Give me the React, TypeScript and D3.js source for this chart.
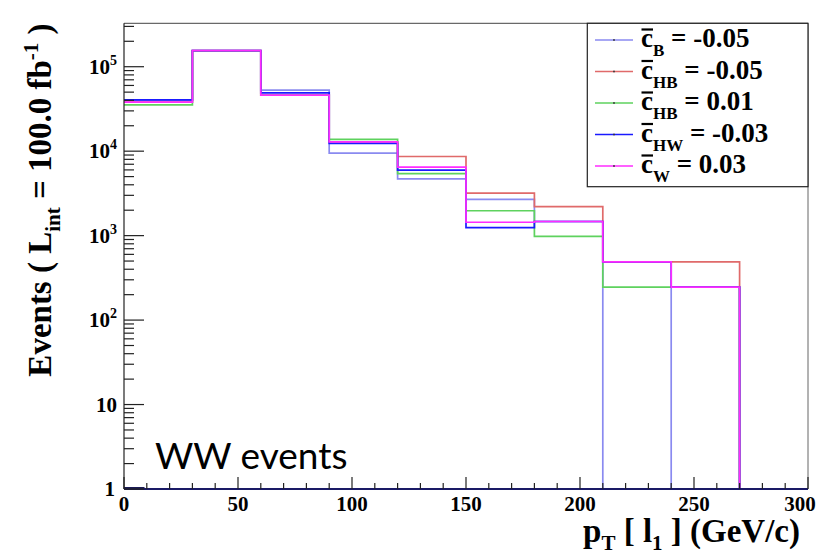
import React from "react";
import * as d3 from "d3";

const binEdges = [0, 30, 60, 90, 120, 150, 180, 210, 240, 270, 300];
const cB_m005 = [40000, 155000, 52800, 9500, 4690, 2690, 1470, 0, 246, 0];
const cHB_m005 = [38000, 155000, 46000, 12900, 8650, 3190, 2210, 490, 490, 0];
const cHB_p001 = [35300, 153000, 46000, 13800, 5430, 1970, 982, 246, 246, 0];
const cHW_m003 = [40400, 155000, 49000, 12400, 5950, 1245, 1470, 490, 246, 0];
const cW_p003 = [38000, 155000, 46000, 12900, 6460, 1440, 1470, 490, 246, 0];

const seriesNames = [
  { sub: "B", val: "-0.05" },
  { sub: "HB", val: "-0.05" },
  { sub: "HB", val: "0.01" },
  { sub: "HW", val: "-0.03" },
  { sub: "W", val: "0.03" },
];
const seriesData = [cB_m005, cHB_m005, cHB_p001, cHW_m003, cW_p003];
const seriesColors = ["#8a8af0", "#e06a6a", "#5ed25e", "#1a1aff", "#ff2cff"];

const xTicksMajor = [0, 50, 100, 150, 200, 250, 300];
const yDecades = [0, 1, 2, 3, 4, 5];

const W = 819, H = 554;
const L = 124, R = 808, T = 23.3, B = 489;
const serif = "'Liberation Serif', 'Times New Roman', serif";

export default function App() {
  const x = d3.scaleLinear().domain([0, 300]).range([L, R]);
  const y = d3.scaleLog().domain([1, 326600]).range([B, T]);
  const yv = (v: number) => (v <= 1 ? B : y(v));

  const pathFor = (vals: number[]) => {
    const p = d3.path();
    p.moveTo(x(binEdges[0]), yv(vals[0]));
    for (let i = 0; i < vals.length; i++) {
      if (i > 0) p.lineTo(x(binEdges[i]), yv(vals[i]));
      p.lineTo(x(binEdges[i + 1]), yv(vals[i]));
    }
    return p.toString();
  };

  const xMinor = d3.range(0, 301, 10);
  const yMinor: number[] = [];
  yDecades.forEach((d) => {
    for (let k = 2; k <= 9; k++) {
      const v = k * Math.pow(10, d);
      if (v < 326600) yMinor.push(v);
    }
  });

  const legRow0 = 47, legStep = 31.5;

  return (
    <svg width={W} height={H} style={{ position: "absolute", left: 0, top: 0, background: "#fff" }}>
      <rect x={0} y={0} width={W} height={H} fill="#fff" />
      {/* histograms */}
      {seriesData.map((vals, i) => (
        <path key={i} d={pathFor(vals)} fill="none" stroke={seriesColors[i]} strokeWidth={1.7} />
      ))}
      {/* frame */}
      <line x1={L} y1={T} x2={R} y2={T} stroke="#444" strokeWidth={1} />
      <line x1={R} y1={T} x2={R} y2={B} stroke="#666" strokeWidth={1} />
      <line x1={L} y1={T} x2={L} y2={B} stroke="#222" strokeWidth={1.2} />
      <line x1={L} y1={B} x2={R} y2={B} stroke="#1a1a66" strokeWidth={2} />
      <line x1={L} y1={B - 0.5} x2={x(9)} y2={B - 0.5} stroke="#1a1a55" strokeWidth={3} />
      {/* y ticks */}
      {yDecades.map((d) => (
        <line key={"ym" + d} x1={L} x2={L + 20} y1={y(Math.pow(10, d))} y2={y(Math.pow(10, d))} stroke="#222" strokeWidth={1.2} />
      ))}
      {yMinor.map((v, i) => (
        <line key={"yn" + i} x1={L} x2={L + 10} y1={y(v)} y2={y(v)} stroke="#222" strokeWidth={1.2} />
      ))}
      {/* x ticks */}
      {xMinor.map((v) => (
        <line key={"xn" + v} x1={x(v)} x2={x(v)} y1={B} y2={B - (v % 50 === 0 ? 12 : 6)} stroke="#222" strokeWidth={1.2} />
      ))}
      {/* y tick labels */}
      {yDecades.map((d) => {
        const yy = y(Math.pow(10, d)) + 7;
        if (d === 0)
          return (
            <text key={"yl" + d} x={115} y={yy} textAnchor="end" fontFamily={serif} fontWeight="bold" fontSize={21}>1</text>
          );
        if (d === 1)
          return (
            <text key={"yl" + d} x={117} y={yy} textAnchor="end" fontFamily={serif} fontWeight="bold" fontSize={21}>10</text>
          );
        return (
          <text key={"yl" + d} x={117} y={yy} textAnchor="end" fontFamily={serif} fontWeight="bold" fontSize={21}>
            10<tspan dy={-9} fontSize={14}>{d}</tspan>
          </text>
        );
      })}
      {/* x tick labels */}
      {xTicksMajor.map((v) => (
        <text key={"xl" + v} x={Math.min(x(v), W - 19)} y={511} textAnchor="middle" fontFamily={serif} fontWeight="bold" fontSize={21}>{v}</text>
      ))}
      {/* axis titles */}
      <text x={800} y={542} textAnchor="end" fontFamily={serif} fontWeight="bold" fontSize={33}>
        p<tspan dy={8} fontSize={21}>T</tspan>
        <tspan dy={-8}>{" [ l"}</tspan>
        <tspan dy={8} fontSize={21}>1</tspan>
        <tspan dy={-8}>{" ] (GeV/c)"}</tspan>
      </text>
      <g transform={`translate(51, 200) rotate(-90)`}>
        <text x={0} y={0} textAnchor="middle" fontFamily={serif} fontWeight="bold" fontSize={33}>
          {"Events  ( L"}
          <tspan dy={9} fontSize={21}>int</tspan>
          <tspan dy={-9}>{" = 100.0 fb"}</tspan>
          <tspan dy={-13} fontSize={21}>-1</tspan>
          <tspan dy={13}>{" )"}</tspan>
        </text>
      </g>
      {/* WW events */}
      <text x={155} y={469} fontFamily="Lato, 'Open Sans', sans-serif" fontSize={37}>WW events</text>
      {/* legend */}
      <rect x={587.3} y={T} width={R - 587.3} height={186.7 - T} fill="#fff" stroke="#222" strokeWidth={1.2} />
      {seriesNames.map((s, i) => {
        const by = legRow0 + i * legStep;
        const ly = by - 7;
        return (
          <g key={"lg" + i}>
            <line x1={595} x2={633} y1={ly} y2={ly} stroke={seriesColors[i]} strokeWidth={1.4} />
            <circle cx={614} cy={ly} r={0.9} fill="#333" />
            <line x1={641.5} x2={653} y1={by - 17.5} y2={by - 17.5} stroke="#000" strokeWidth={2.2} />
            <text x={641} y={by} fontFamily={serif} fontWeight="bold" fontSize={27}>
              c<tspan dy={9} fontSize={17}>{s.sub}</tspan>
              <tspan dy={-9}>{" = " + s.val}</tspan>
            </text>
          </g>
        );
      })}
    </svg>
  );
}
